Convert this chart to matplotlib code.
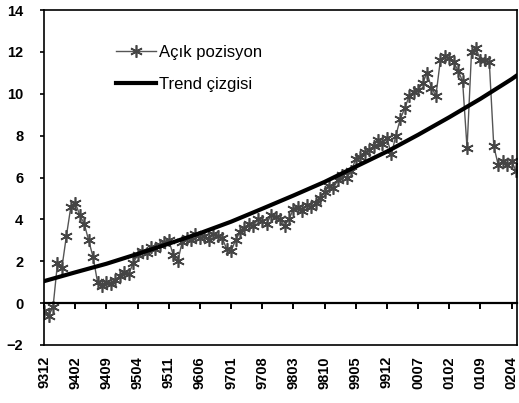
import numpy as np
import matplotlib.pyplot as plt

# Açık pozisyon (aylık, okunan değerler)
acik_pozisyon = [
    -0.4, -0.6, -0.2, 1.9, 1.7, 3.2, 4.6, 4.8, 4.2, 3.8,
    3.0, 2.2, 1.0, 0.8, 1.0, 0.9, 1.1, 1.3, 1.5, 1.4,
    1.9, 2.3, 2.5, 2.4, 2.7, 2.6, 2.8, 2.9, 3.0, 2.3,
    2.0, 2.9, 3.1, 3.0, 3.3, 3.1, 3.2, 3.0, 3.3, 3.2,
    3.1, 2.6, 2.5, 3.0, 3.4, 3.6, 3.8, 3.7, 4.0, 3.9,
    3.8, 4.2, 4.1, 4.0, 3.7, 4.0, 4.5, 4.6, 4.4, 4.7,
    4.6, 4.8, 5.0, 5.3, 5.6, 5.5, 5.9, 6.1, 6.0, 6.3,
    6.9, 7.0, 7.2, 7.3, 7.5, 7.8, 7.6, 7.9, 7.1, 8.0,
    8.8, 9.3, 9.9, 10.1, 10.2, 10.5, 11.0, 10.3, 9.9, 11.6,
    11.8, 11.7, 11.5, 11.1, 10.6, 7.4, 12.0, 12.2, 11.6, 11.6,
    11.5, 7.5, 6.6, 6.8, 6.6, 6.8, 6.3,
]

# Trend çizgisi, etiket noktalarında okunan değerler
trend_x = [0, 7, 14, 21, 28, 35, 42, 49, 56, 63, 70, 77, 84, 91, 98, 105, 106]
trend_y = [1.05, 1.47, 1.88, 2.35, 2.84, 3.34, 3.89, 4.51, 5.14, 5.79,
           6.52, 7.24, 8.04, 8.88, 9.76, 10.7, 10.85]

tick_pos = [0, 7, 14, 21, 28, 35, 42, 49, 56, 63, 70, 77, 84, 91, 98, 105]
tick_labels = ['9312', '9402', '9409', '9504', '9511', '9606', '9701', '9708',
               '9803', '9810', '9905', '9912', '0007', '0102', '0109', '0204']

plt.rcParams['font.family'] = ['Liberation Sans', 'DejaVu Sans']

fig = plt.figure(figsize=(5.19, 4.03), dpi=100)
ax = fig.add_axes([0.085, 0.144, 0.911, 0.831])

x = np.arange(len(acik_pozisyon))
ax.plot(x, acik_pozisyon, color='#555555', lw=1.0, marker=(6, 2, 0),
        markersize=9, markeredgewidth=1.2, markeredgecolor='#454545',
        label='Açık pozisyon')
ax.plot(trend_x, trend_y, color='black', lw=3.0, label='Trend çizgisi')

ax.set_xlim(0, 106.2)
ax.set_ylim(-2, 14)
ax.set_yticks(range(-2, 15, 2))
ax.tick_params(axis='y', direction='out', length=3, width=1.2, labelsize=10.5, pad=12)
for t in ax.get_yticklabels():
    t.set_fontweight('bold')

# yatay eksen 0'da, etiketler altta
ax.spines['bottom'].set_position(('data', 0))
ax.spines['bottom'].set_linewidth(1.6)
ax.set_xticks(tick_pos)
ax.tick_params(axis='x', direction='out', length=4, width=1.4, labelbottom=False)
for s in ['top', 'right', 'left']:
    ax.spines[s].set_linewidth(1.2)

sec = ax.secondary_xaxis('bottom')
sec.spines['bottom'].set_position(('axes', 0))
sec.spines['bottom'].set_linewidth(1.2)
sec.set_xticks(tick_pos)
sec.set_xticklabels(tick_labels, rotation=90, fontsize=10.5, fontweight='bold')
sec.tick_params(axis='x', length=0, pad=8)

ax.legend(loc='upper left', bbox_to_anchor=(0.12, 0.94), frameon=False,
          fontsize=12, handlelength=2.4, labelspacing=1.0, handletextpad=0.2)

fig.savefig('out.png', dpi=100)
